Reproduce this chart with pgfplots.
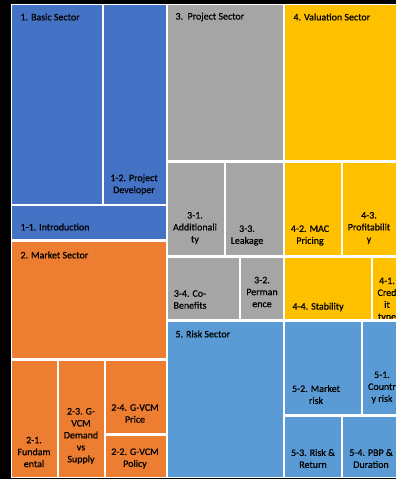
\documentclass[border=0pt]{standalone}
\usepackage{pgfplots}
\pgfplotsset{compat=1.18}
\usepackage{fontspec}
\setmainfont{Carlito}[FakeBold=0.6]
\definecolor{cblue}{HTML}{4472C4}
\definecolor{corange}{HTML}{ED7D31}
\definecolor{cgray}{HTML}{A5A5A5}
\definecolor{cyellow}{HTML}{FFC000}
\definecolor{clblue}{HTML}{5B9BD5}
\newcommand{\tbox}[5]{\addplot[fill=#5, draw=none] coordinates {(#1,#2) (#3,#2) (#3,#4) (#1,#4)} --cycle;}
\begin{document}
\begin{tikzpicture}
\clip (0,0) rectangle (396bp,479bp);
\begin{axis}[
  width=396bp, height=479bp, scale only axis,
  xmin=0, xmax=396, ymin=0, ymax=479, y dir=reverse,
  hide axis, clip=true,
  every node/.style={text=white, inner sep=0pt, font=\fontsize{10.3}{15}\selectfont},
]
% background
\tbox{0}{0}{396}{479}{black}
\tbox{11}{4}{400}{478}{white}
% sector 1
\tbox{12}{5}{102}{204}{cblue}
\tbox{104}{5}{166}{204}{cblue}
\tbox{12}{206}{166}{239}{cblue}
% sector 2
\tbox{12}{242}{166}{358}{corange}
\tbox{12}{361}{57}{477}{corange}
\tbox{59}{361}{104}{477}{corange}
\tbox{106}{361}{166}{433}{corange}
\tbox{106}{436}{166}{477}{corange}
% sector 3
\tbox{168}{5}{283}{160}{cgray}
\tbox{168}{163}{224}{255}{cgray}
\tbox{226}{163}{283}{255}{cgray}
\tbox{168}{258}{239}{319}{cgray}
\tbox{241}{258}{283}{319}{cgray}
% sector 4
\tbox{285}{5}{400}{160}{cyellow}
\tbox{285}{163}{341}{255}{cyellow}
\tbox{343}{163}{400}{255}{cyellow}
\tbox{285}{258}{371}{319}{cyellow}
\tbox{373}{258}{400}{319}{cyellow}
% labels 1-4
\node[anchor=west] at (axis cs:17,17) {1. Basic Sector};
\node[align=center] at (axis cs:134,184.5) {1-2. Project\\Developer};
\node[anchor=west] at (axis cs:17,227) {1-1. Introduction};
\node[anchor=west] at (axis cs:17,255) {2. Market Sector};
\node[align=center] at (axis cs:34,452) {2-1.\\Fundam\\ental};
\node[align=center] at (axis cs:81,436) {2-3. G-\\VCM\\Demand\\vs\\Supply};
\node[align=center] at (axis cs:135,413.5) {2-4. G-VCM\\Price};
\node[align=center] at (axis cs:135,458.5) {2-2. G-VCM\\Policy};
\node[anchor=west] at (axis cs:172,17) {3.\ \ Project Sector};
\node[anchor=west] at (axis cs:290,17) {4. Valuation Sector};
\node[align=center] at (axis cs:195,228) {3-1.\\Additionali\\ty};
\node[align=center] at (axis cs:247,235.5) {3-3.\\Leakage};
\node[align=center] at (axis cs:310,235.5) {4-2. MAC\\Pricing};
\node[align=center] at (axis cs:369,228) {4-3.\\Profitabilit\\y};
\node[align=center] at (axis cs:190,299.5) {3-4. Co-\\Benefits};
\node[align=center] at (axis cs:262,292) {3-2.\\Perman\\ence};
\node[anchor=west] at (axis cs:289,307) {4-4. Stability};
\node[align=center] at (axis cs:387,299.5) {4-1.\\Cred\\it\\type};
% sector 5
\tbox{373}{319}{400}{322}{white}
\tbox{168}{322}{283}{477}{clblue}
\tbox{285}{322}{361}{414}{clblue}
\tbox{363}{322}{400}{414}{clblue}
\tbox{285}{417}{341}{477}{clblue}
\tbox{343}{417}{400}{477}{clblue}
\node[anchor=west] at (axis cs:172,334) {5. Risk Sector};
\node[align=center] at (axis cs:316,394.5) {5-2. Market\\risk};
\node[align=center] at (axis cs:382,387.5) {5-1.\\Countr\\y risk};
\node[align=center] at (axis cs:313,458.5) {5-3. Risk \&\\Return};
\node[align=center] at (axis cs:371,458.5) {5-4. PBP \&\\Duration};
\end{axis}
\end{tikzpicture}
\end{document}
